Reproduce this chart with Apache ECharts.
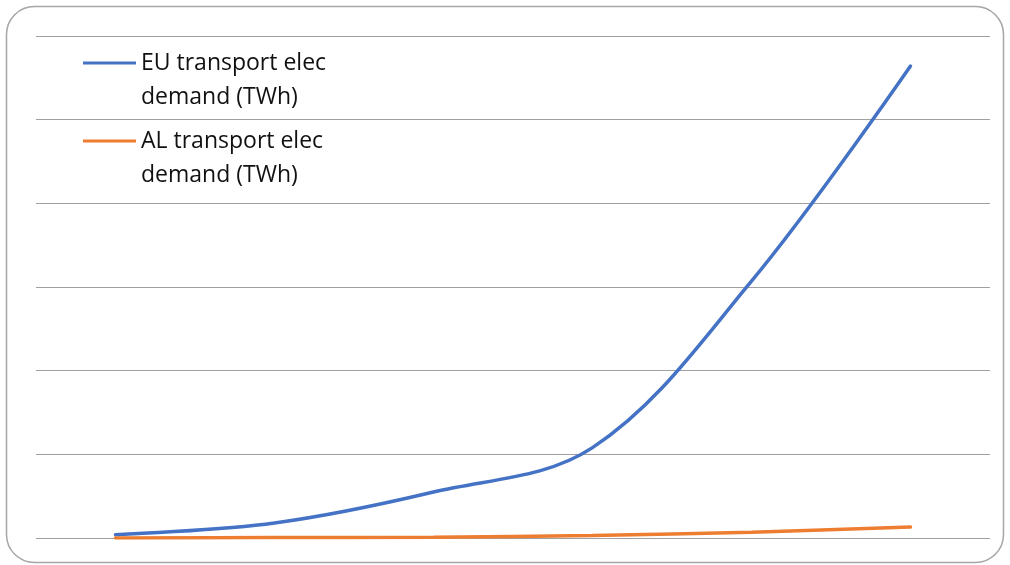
<!DOCTYPE html>
<html>
<head>
<meta charset="utf-8">
<script src="https://cdn.jsdelivr.net/npm/echarts@6/dist/echarts.min.js"></script>
<style>
  html, body { margin: 0; padding: 0; background: #ffffff; }
  #chart { width: 1010px; height: 565px; }
</style>
</head>
<body>
<div id="chart"></div>
<script>
// Transport electricity demand projections (TWh)
const years = ['2025', '2030', '2035', '2040', '2045', '2050'];
const euDemand = [4, 18, 55, 108, 307, 564];
const alDemand = [0, 0.5, 1, 3, 7, 13];
const seriesNames = ['EU transport elec demand (TWh)', 'AL transport elec demand (TWh)'];
const seriesColors = ['#4472c4', '#ed7d31'];

const chart = echarts.init(document.getElementById('chart'), null, { renderer: 'canvas' });

// One legend block per series; the leading blank line keeps the icon level with the first text line
function legendFor(name, top) {
  return {
    data: [name],
    left: 83,
    top: top,
    padding: 0,
    orient: 'vertical',
    itemWidth: 53,
    itemHeight: 3,
    icon: 'rect',
    selectedMode: false,
    formatter: n => '\n' + n.replace(' demand', '\ndemand'),
    textStyle: {
      fontFamily: 'Open Sans',
      fontSize: 23,
      color: '#111111',
      lineHeight: 34
    }
  };
}

chart.setOption({
  animation: false,
  backgroundColor: '#ffffff',
  graphic: [{
    type: 'rect',
    shape: { x: 6.5, y: 6.5, width: 997, height: 556, r: 28 },
    style: { fill: 'none', stroke: '#a6a6a6', lineWidth: 1.5 },
    z: -1
  }],
  legend: [
    legendFor(seriesNames[0], 63 - 51),
    legendFor(seriesNames[1], 141 - 51)
  ],
  grid: { left: 36, right: 20, top: 36, bottom: 27 },
  xAxis: {
    type: 'category',
    data: years,
    boundaryGap: true,
    axisLine: { show: false },
    axisTick: { show: false },
    axisLabel: { show: false }
  },
  yAxis: {
    type: 'value',
    min: 0,
    max: 600,
    interval: 100,
    axisLine: { show: false },
    axisTick: { show: false },
    axisLabel: { show: false },
    splitLine: { lineStyle: { color: '#a0a0a0', width: 1 } }
  },
  series: [
    {
      name: seriesNames[0],
      type: 'line',
      data: euDemand,
      smooth: 0.35,
      symbol: 'none',
      color: seriesColors[0],
      lineStyle: { width: 3.5, cap: 'round' }
    },
    {
      name: seriesNames[1],
      type: 'line',
      data: alDemand,
      smooth: 0.35,
      symbol: 'none',
      color: seriesColors[1],
      lineStyle: { width: 3.5, cap: 'round' }
    }
  ]
});
</script>
</body>
</html>
